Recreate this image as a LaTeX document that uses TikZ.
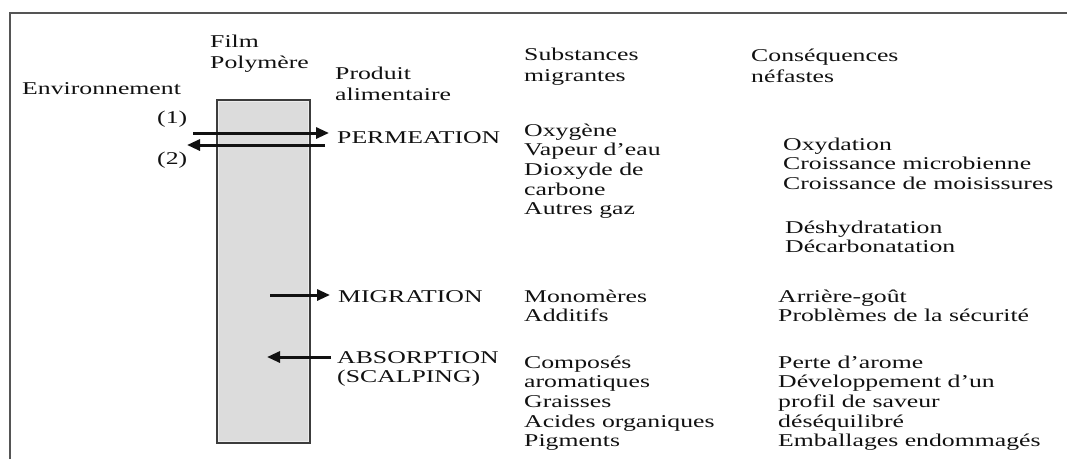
\documentclass[tikz,border=0pt]{standalone}
\usepackage{fontspec}
\setmainfont[FakeStretch=1.43]{Liberation Serif}
\usetikzlibrary{arrows.meta}
\definecolor{ink}{HTML}{111111}
\definecolor{filmfill}{HTML}{DCDCDC}
\definecolor{filmline}{HTML}{3C3C3C}
\definecolor{filminner}{HTML}{ECECEC}
\definecolor{framegray}{HTML}{555555}
\begin{document}
\begin{tikzpicture}[x=1pt,y=-1pt,
  body/.style={anchor=north west, inner sep=0pt, align=left, text=ink, font=\fontsize{18}{19.6}\selectfont, yshift=13.72pt},
  head/.style={anchor=north west, inner sep=0pt, align=left, text=ink, font=\fontsize{18}{21.5}\selectfont, yshift=15.05pt},
  flow/.style={line width=3pt, -{Triangle[length=13pt,width=11pt]}, draw=ink},
]
\useasboundingbox (0,0) rectangle (1067,459);
\draw[framegray, line width=2pt] (10,459) -- (10,13) -- (1067,13);
\node[draw=filmline, fill=filmfill, line width=1.5pt, minimum width=93pt, minimum height=343pt, inner sep=0pt, anchor=north west] (film) at (216,99) {};
\draw[filminner, line width=1.2pt] ([shift={(2.4pt,-2.4pt)}]film.north west) rectangle ([shift={(-2.4pt,2.4pt)}]film.south east);

\node[head] (filmlab) at (210,47) {\strut Film\\Polymère};
\node[head] (env) at (22,94) {\strut Environnement};
\node[head] (prod) at (335,79) {\strut Produit\\alimentaire};
\node[head] (subst) at (524,60) {\strut Substances\\migrantes};
\node[head] (cons) at (751,61) {\strut Conséquences\\néfastes};

\node[body] (n1) at (157,123) {\strut (1)};
\node[body] (n2) at (157,164) {\strut (2)};
\node[body] (perm) at (337,143) {\strut PERMEATION};
\node[body] (migr) at (338,302) {\strut MIGRATION};
\node[body] (abso) at (337,363) {\strut ABSORPTION\\(SCALPING)};

\node[body] (gaz) at (524,136) {\strut Oxygène\\Vapeur d’eau\\Dioxyde de\\carbone\\Autres gaz};
\node[body] (ox) at (783,150) {\strut Oxydation\\Croissance microbienne\\Croissance de moisissures};
\node[body] (deh) at (785,233) {\strut Déshydratation\\Décarbonatation};
\node[body] (mono) at (524,302) {\strut Monomères\\Additifs};
\node[body] (arr) at (778,302) {\strut Arrière-goût\\Problèmes de la sécurité};
\node[body] (comp) at (524,368) {\strut Composés\\aromatiques\\Graisses\\Acides organiques\\Pigments};
\node[body] (perte) at (778,368) {\strut Perte d’arome\\Développement d’un\\profil de saveur\\déséquilibré\\Emballages endommagés};

\coordinate (a1s) at (193,133); \coordinate (a1e) at (329,133);
\coordinate (a2s) at (325,145); \coordinate (a2e) at (187,145);
\coordinate (ms) at (270,295); \coordinate (me) at (330,295);
\coordinate (bs) at (331,357); \coordinate (be) at (267,357);
\draw[flow] (a1s) -- (a1e);
\draw[flow] (a2s) -- (a2e);
\draw[flow] (ms) -- (me);
\draw[flow] (bs) -- (be);
\end{tikzpicture}
\end{document}
